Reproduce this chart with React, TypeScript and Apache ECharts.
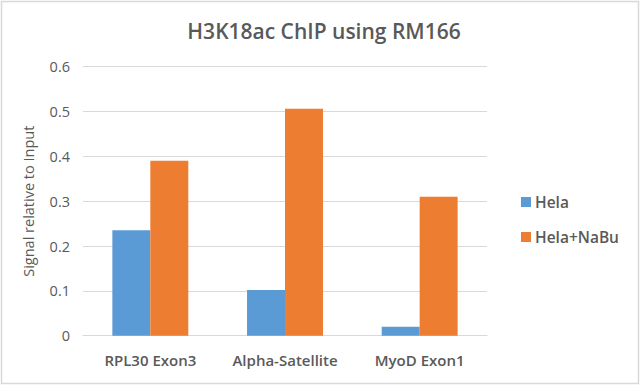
import React, { useEffect, useRef } from "react";
import * as echarts from "echarts";

const categories = ["RPL30 Exon3", "Alpha-Satellite", "MyoD Exon1"];
const helaValues = [0.235, 0.102, 0.02];
const nabuValues = [0.39, 0.506, 0.31];
const seriesNames = ["Hela", "Hela+NaBu"];

const FONT = "'Open Sans', sans-serif";
const GRAY = "#595959";

export default function App() {
  const ref = useRef<HTMLDivElement>(null);
  useEffect(() => {
    if (!ref.current) return;
    const chart = echarts.init(ref.current, undefined, { renderer: "svg" });
    chart.setOption({
      animation: false,
      backgroundColor: "#ffffff",
      title: {
        text: "H3K18ac ChIP using RM166",
        left: 319,
        top: 15,
        textAlign: "center",
        textStyle: { fontFamily: FONT, fontSize: 21, fontWeight: 600, color: GRAY },
      },
      graphic: [
        {
          type: "rect",
          shape: { x: 1.5, y: 1.5, width: 637, height: 382 },
          style: { fill: "none", stroke: "#d9d9d9", lineWidth: 1.5 },
          silent: true,
        },
      ],
      legend: {
        orient: "vertical",
        left: 516,
        top: 189,
        itemWidth: 10,
        itemHeight: 10,
        itemGap: 19,
        icon: "rect",
        data: seriesNames,
        textStyle: { fontFamily: FONT, fontSize: 15.5, fontWeight: 600, color: GRAY, padding: [0, 0, 0, -1] },
      },
      grid: { left: 83, top: 66.7, width: 404, height: 269, containLabel: false },
      xAxis: {
        type: "category",
        data: categories,
        axisLine: { lineStyle: { color: "#d9d9d9" } },
        axisTick: { show: false },
        axisLabel: {
          interval: 0,
          hideOverlap: false,
          fontFamily: FONT,
          fontSize: 15,
          fontWeight: 600,
          color: GRAY,
          margin: 17,
        },
      },
      yAxis: {
        type: "value",
        min: 0,
        max: 0.6,
        interval: 0.1,
        name: "Signal relative to Input",
        nameLocation: "middle",
        nameGap: 47,
        nameRotate: 90,
        nameTextStyle: { fontFamily: FONT, fontSize: 14.5, color: GRAY },
        axisLine: { show: false },
        axisTick: { show: false },
        splitLine: { lineStyle: { color: "#d9d9d9" } },
        axisLabel: {
          fontFamily: FONT,
          fontSize: 14.5,
          color: GRAY,
          margin: 13,
          formatter: (v: number) => (v === 0 ? "0" : v.toFixed(1)),
        },
      },
      series: [
        {
          name: seriesNames[0],
          type: "bar",
          data: helaValues,
          itemStyle: { color: "#5b9bd5" },
          barGap: "0%",
          barCategoryGap: "43.6%",
        },
        {
          name: seriesNames[1],
          type: "bar",
          data: nabuValues,
          itemStyle: { color: "#ed7d31" },
          barGap: "0%",
          barCategoryGap: "43.6%",
        },
      ],
    });
    return () => chart.dispose();
  }, []);
  return (
    <div
      ref={ref}
      style={{ position: "absolute", left: 0, top: 0, width: 640, height: 385 }}
    />
  );
}
